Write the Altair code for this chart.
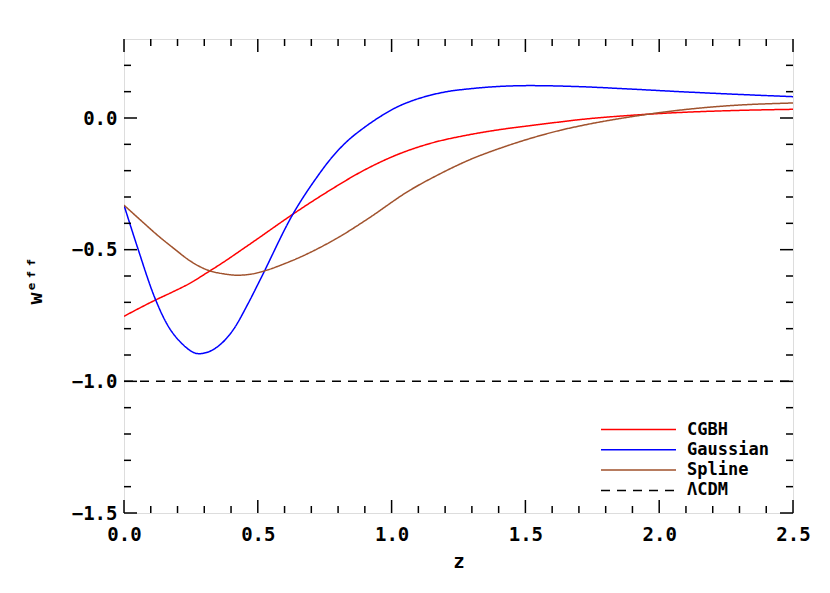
import altair as alt
import pandas as pd

# ---- data ----
cgbh_z = [0, 0.116, 0.187, 0.249, 0.311, 0.374, 0.436, 0.486, 0.633, 0.770, 0.894, 1.019,
          1.143, 1.293, 1.405, 1.517, 1.629, 1.704, 1.878, 2.078, 2.265, 2.5]
cgbh_w = [-0.753, -0.692, -0.658, -0.626, -0.587, -0.546, -0.503, -0.468, -0.364, -0.274, -0.200, -0.140,
          -0.097, -0.063, -0.044, -0.029, -0.015, -0.006, 0.009, 0.021, 0.028, 0.033]

gauss_z = [0, 0.05, 0.116, 0.162, 0.212, 0.280, 0.349, 0.411, 0.461, 0.508, 0.633, 0.72, 0.770,
           0.832, 0.894, 0.957, 1.019, 1.081, 1.143, 1.206, 1.293, 1.405, 1.517, 1.704, 1.891,
           2.078, 2.265, 2.5]
gauss_w = [-0.331, -0.49, -0.685, -0.785, -0.852, -0.895, -0.869, -0.80, -0.71, -0.616, -0.362, -0.226,
           -0.158, -0.090, -0.039, 0.005, 0.041, 0.067, 0.086, 0.100, 0.111, 0.120, 0.123, 0.119, 0.110,
           0.100, 0.091, 0.081]

spline_z = [0, 0.062, 0.125, 0.187, 0.249, 0.311, 0.374, 0.424, 0.486, 0.527, 0.608, 0.67, 0.732,
            0.807, 0.908, 1.069, 1.181, 1.293, 1.405, 1.517, 1.629, 1.704, 1.878, 2.078, 2.265, 2.5]
spline_w = [-0.331, -0.388, -0.445, -0.496, -0.544, -0.577, -0.592, -0.597, -0.591, -0.580, -0.550, -0.523,
            -0.492, -0.45, -0.385, -0.274, -0.212, -0.158, -0.115, -0.078, -0.047, -0.030, 0.002, 0.030,
            0.047, 0.057]

lcdm_z = [0, 2.5]
lcdm_w = [-1.0, -1.0]

series_names = ["CGBH", "Gaussian", "Spline", "\u039bCDM"]
series_colors = ["#ff0000", "#0000ff", "#a0522d", "#000000"]
series_dashes = [[1, 0], [1, 0], [1, 0], [9, 7]]

x_major = [0.0, 0.5, 1.0, 1.5, 2.0, 2.5]
x_minor = [0.1, 0.2, 0.3, 0.4, 0.6, 0.7, 0.8, 0.9, 1.1, 1.2, 1.3, 1.4,
           1.6, 1.7, 1.8, 1.9, 2.1, 2.2, 2.3, 2.4]
y_major = [-1.5, -1.0, -0.5, 0.0]
y_minor = [-1.4, -1.3, -1.2, -1.1, -0.9, -0.8, -0.7, -0.6, -0.4, -0.3, -0.2, -0.1, 0.1, 0.2]

W, H = 669, 474
FONT = "DejaVu Sans Mono"

rows = []
for name, zs, ws in zip(series_names, [cgbh_z, gauss_z, spline_z, lcdm_z],
                        [cgbh_w, gauss_w, spline_w, lcdm_w]):
    for z, w in zip(zs, ws):
        rows.append({"series": name, "z": z, "w": w})
df = pd.DataFrame(rows)

xscale = alt.Scale(domain=[0, 2.5], nice=False, zero=False)
yscale = alt.Scale(domain=[-1.5, 0.3], nice=False, zero=False)

xaxis = alt.Axis(values=x_major, format=".1f", ticks=False, tickSize=0, domain=False, grid=False,
                 labelFlush=False, labelOverlap=False,
                 labelFont=FONT, labelFontSize=19, labelFontWeight="bold", labelColor="black",
                 labelPadding=12, title="z", titleFont=FONT, titleFontSize=19,
                 titleFontWeight="bold", titleColor="black", titleY=48, titleBaseline="middle")
yaxis = alt.Axis(values=y_major, format=".1f", ticks=False, tickSize=0, domain=False, grid=False,
                 labelFlush=False, labelOverlap=False,
                 labelFont=FONT, labelFontSize=19, labelFontWeight="bold", labelColor="black",
                 labelPadding=7, title="w\u1d49\u1da0\u1da0", titleFont=FONT, titleFontSize=20,
                 titleFontWeight="bold", titleColor="black", titleX=-89, titleY=H / 2 + 4,
                 titleAlign="center", titleBaseline="middle", titleAngle=270)

X = alt.X("z:Q", scale=xscale, axis=xaxis)
Y = alt.Y("w:Q", scale=yscale, axis=yaxis)

leg = alt.Legend(orient="none", legendX=476, legendY=382, title=None, symbolType="stroke",
                 symbolSize=5625, symbolStrokeWidth=1.5, clipHeight=17, rowPadding=2.3,
                 labelFont=FONT, labelFontSize=17, labelFontWeight="bold", labelColor="black",
                 labelOffset=10, padding=0)

lines = alt.Chart(df).mark_line(strokeWidth=1.5, clip=True, interpolate="monotone").encode(
    x=X, y=Y,
    color=alt.Color("series:N", scale=alt.Scale(domain=series_names, range=series_colors),
                    legend=leg, sort=series_names),
    strokeDash=alt.StrokeDash("series:N", scale=alt.Scale(domain=series_names, range=series_dashes),
                              legend=leg, sort=series_names),
)

layers = [lines]
for vals, ln in [(x_major, 13), (x_minor, 7)]:
    d = pd.DataFrame({"z": vals})
    layers.append(alt.Chart(d).mark_rule(color="black", strokeWidth=1.5).encode(
        x=X, y=alt.value(H), y2=alt.value(H - ln)))
    layers.append(alt.Chart(d).mark_rule(color="black", strokeWidth=1.5).encode(
        x=X, y=alt.value(0), y2=alt.value(ln)))
for vals, ln in [(y_major, 13), (y_minor, 7)]:
    d = pd.DataFrame({"w": vals})
    layers.append(alt.Chart(d).mark_rule(color="black", strokeWidth=1.5).encode(
        y=Y, x=alt.value(0), x2=alt.value(ln)))
    layers.append(alt.Chart(d).mark_rule(color="black", strokeWidth=1.5).encode(
        y=Y, x=alt.value(W), x2=alt.value(W - ln)))

chart = alt.layer(*layers).properties(
    width=W, height=H,
    autosize=alt.AutoSizeParams(type="none"),
    padding={"left": 116, "top": 31, "right": 20, "bottom": 60},
).configure_view(stroke="black", strokeWidth=1.5).configure(background="white")

chart.save("out.html", embed_options={"renderer": "svg", "actions": False})
